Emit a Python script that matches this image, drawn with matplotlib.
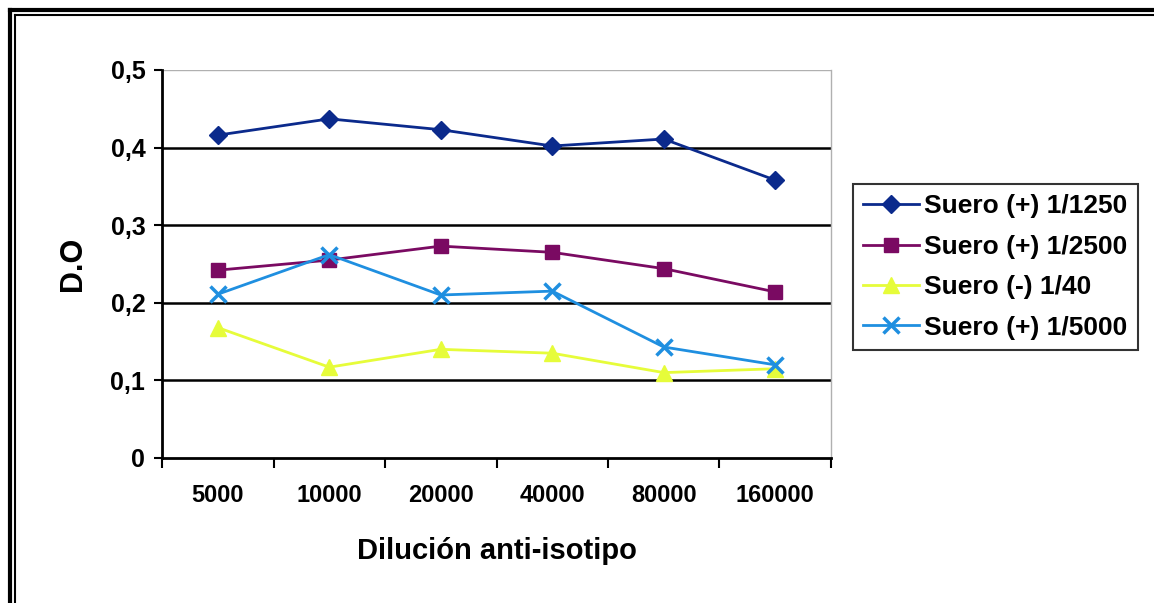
import matplotlib.pyplot as plt
from matplotlib.lines import Line2D
import numpy as np

plt.rcParams['font.family'] = ['Liberation Sans', 'DejaVu Sans']
plt.rcParams['font.weight'] = 'bold'

diluciones = ['5000', '10000', '20000', '40000', '80000', '160000']
suero_1250 = [0.416, 0.437, 0.423, 0.402, 0.411, 0.358]
suero_2500 = [0.242, 0.255, 0.273, 0.265, 0.244, 0.214]
suero_40 = [0.168, 0.117, 0.140, 0.135, 0.110, 0.115]
suero_5000 = [0.211, 0.262, 0.210, 0.215, 0.143, 0.120]

fig = plt.figure(figsize=(11.54, 6.03), dpi=100)
ax = fig.add_axes([0.1404, 0.2405, 0.5797, 0.6435])

x = np.arange(len(diluciones))
ax.plot(x, suero_1250, color='#0b2a8c', marker='D', ms=9, lw=2, label='Suero (+) 1/1250')
ax.plot(x, suero_2500, color='#7a0a62', marker='s', ms=10, lw=2, label='Suero (+) 1/2500')
ax.plot(x, suero_40, color='#e6fc3a', marker='^', ms=11, lw=2, label='Suero (-) 1/40')
ax.plot(x, suero_5000, color='#1f8fe0', marker='x', ms=12, mew=2.5, lw=2, label='Suero (+) 1/5000')

ax.set_xlim(-0.5, len(diluciones) - 0.5)
ax.set_ylim(0, 0.5)

# horizontal gridlines, top one lighter
for v in [0.1, 0.2, 0.3, 0.4]:
    ax.axhline(v, color='black', lw=1.8, zorder=0)
ax.axhline(0.5, color='#b0b0b0', lw=1, zorder=0)

ax.spines['top'].set_visible(False)
ax.spines['right'].set_color('#b0b0b0')
ax.spines['right'].set_linewidth(1)
ax.spines['left'].set_linewidth(2)
ax.spines['bottom'].set_linewidth(2)

ax.set_yticks([0, 0.1, 0.2, 0.3, 0.4, 0.5])
ax.set_yticklabels(['0', '0,1', '0,2', '0,3', '0,4', '0,5'], fontsize=18, fontweight='bold')
ax.tick_params(axis='y', direction='out', length=6, width=1.5, pad=6)

# category labels centred, tick marks on the boundaries
ax.set_xticks(x)
ax.set_xticklabels(diluciones, fontsize=17, fontweight='bold')
ax.set_xticks(np.arange(-0.5, len(diluciones)), minor=True)
ax.tick_params(axis='x', which='major', length=0, pad=19)
ax.tick_params(axis='x', which='minor', direction='out', length=7, width=1.5)

ax.set_xlabel('Dilución anti-isotipo', fontsize=21, fontweight='bold', labelpad=21)
ax.set_ylabel('D.O', fontsize=22, fontweight='bold', labelpad=16)

leg = fig.legend(loc='upper left', bbox_to_anchor=(0.739, 0.695), fontsize=19,
                 frameon=True, fancybox=False, edgecolor='black',
                 handlelength=2.1, handletextpad=0.2, labelspacing=0.62,
                 borderpad=0.4, borderaxespad=0)
leg.get_frame().set_linewidth(1.5)
for t in leg.get_texts():
    t.set_fontweight('bold')

# double frame on the left and top edges
W, H = 1154, 603
for px, lw in [(10, 3), (15, 1.5)]:
    fig.add_artist(Line2D([px / W, px / W], [0, 1 - px / H], transform=fig.transFigure,
                          color='black', lw=lw))
    fig.add_artist(Line2D([px / W, 1], [1 - px / H, 1 - px / H], transform=fig.transFigure,
                          color='black', lw=lw))

fig.savefig('out.png', dpi=100)
